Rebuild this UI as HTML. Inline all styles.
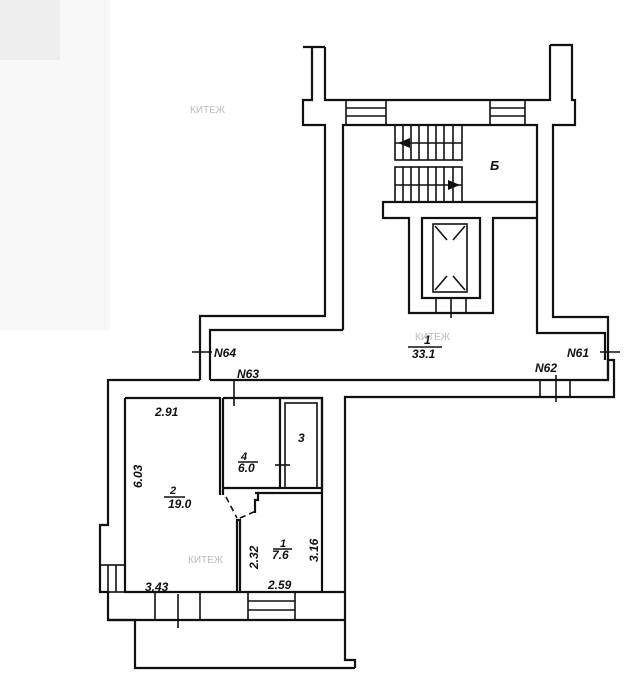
<!DOCTYPE html>
<html><head><meta charset="utf-8"><style>
html,body{margin:0;padding:0;background:#fff;width:640px;height:678px;overflow:hidden}
svg{display:block}
text{font-family:"Liberation Sans",sans-serif;font-weight:bold;font-style:italic;fill:#111}
.w{fill:none;stroke:#111;stroke-width:2.2}
.t{fill:none;stroke:#111;stroke-width:1.6}
.wm{font-family:"Liberation Sans","Noto Sans CJK SC",sans-serif;font-style:normal;font-weight:normal;fill:#bbb;font-size:10px}
</style></head><body>
<svg width="640" height="678" viewBox="0 0 640 678">
<rect width="640" height="678" fill="#fff"/>
<rect x="0" y="0" width="110" height="330" fill="#f3f3f3" opacity="0.6"/>
<rect x="0" y="0" width="60" height="60" fill="#e8e8e8" opacity="0.6"/>
<!-- stair block -->
<polyline class="w" points="312,47 312,100 303,100 303,125 325,125 325,316 200,316 200,380"/>
<polyline class="w" points="325,47 325,100 550,100 550,45"/>
<polyline class="w" points="303,47 325,47"/>
<polyline class="w" points="550,45 572,45 572,100 575,100 575,125 553,125 553,317 608,317 608,380"/>
<polyline class="w" points="343,330 343,125 537,125 537,333 605,333 605,360"/>
<polyline class="w" points="210,380 210,330 343,330"/>
<!-- top windows -->
<rect class="t" x="346" y="100" width="40" height="25"/>
<line class="t" x1="346" y1="108" x2="386" y2="108"/><line class="t" x1="346" y1="116" x2="386" y2="116"/>
<rect class="t" x="490" y="100" width="35" height="25"/>
<line class="t" x1="490" y1="108" x2="525" y2="108"/><line class="t" x1="490" y1="116" x2="525" y2="116"/>
<!-- stairs -->
<rect class="t" x="395" y="125" width="67" height="35"/>
<rect class="t" x="395" y="167" width="67" height="35"/>
<g class="t">
<line x1="395" y1="143" x2="462" y2="143"/><line x1="395" y1="185" x2="462" y2="185"/>
<line x1="403" y1="125" x2="403" y2="160"/><line x1="411" y1="125" x2="411" y2="160"/><line x1="419" y1="125" x2="419" y2="160"/><line x1="428" y1="125" x2="428" y2="160"/><line x1="436" y1="125" x2="436" y2="160"/><line x1="444" y1="125" x2="444" y2="160"/><line x1="453" y1="125" x2="453" y2="160"/>
<line x1="403" y1="167" x2="403" y2="202"/><line x1="411" y1="167" x2="411" y2="202"/><line x1="419" y1="167" x2="419" y2="202"/><line x1="428" y1="167" x2="428" y2="202"/><line x1="436" y1="167" x2="436" y2="202"/><line x1="444" y1="167" x2="444" y2="202"/><line x1="453" y1="167" x2="453" y2="202"/>
</g>
<polygon points="398,143 410,138 410,148" fill="#111"/>
<polygon points="460,185 448,180 448,190" fill="#111"/>
<polyline class="w" points="537,202 383,202 383,218 409,218 409,313 493,313 493,218 537,218"/>
<rect class="w" x="422" y="218" width="58" height="80"/>
<rect class="t" x="433" y="224" width="34" height="68"/>
<g class="t"><line x1="435" y1="226" x2="447" y2="240"/><line x1="465" y1="226" x2="453" y2="240"/><line x1="435" y1="290" x2="447" y2="276"/><line x1="465" y1="290" x2="453" y2="276"/>
<line x1="436" y1="298" x2="436" y2="313"/><line x1="466" y1="298" x2="466" y2="313"/><line x1="451" y1="298" x2="451" y2="318"/></g>
<!-- corridor -->
<polyline class="w" points="200,380 108,380 108,525 100,525 100,592 108,592 108,620 135,620 135,668 355,668"/>
<polyline class="w" points="210,380 608,380 608,360 614,360 614,397 345,397 345,660 355,660 355,668"/>
<polyline class="w" points="125,398 125,592 345,592"/>
<polyline class="w" points="125,398 220,398 220,495"/>
<polyline class="w" points="223,398 223,495"/>
<polyline class="w" points="223,398 322,398 322,592"/>
<polyline class="w" points="108,620 345,620"/>
<rect class="w" x="280" y="398" width="42" height="90"/>
<rect class="w" x="285" y="403" width="32" height="85" style="stroke-width:1.6"/>
<polyline class="w" points="223,488 280,488"/>
<polyline class="w" points="255,493 322,493"/>
<polyline class="w" points="237,592 237,520 240,520 240,592"/>
<polyline class="w" points="258,493 258,500 255,500 255,513"/>
<line class="t" x1="226" y1="497" x2="237" y2="518" stroke-dasharray="6,4"/>
<line class="t" x1="240" y1="518" x2="256" y2="511" stroke-dasharray="6,4"/>
<!-- windows bottom -->
<rect class="t" x="155" y="592" width="45" height="28"/>
<rect class="t" x="248" y="592" width="47" height="28"/>
<line class="t" x1="248" y1="601" x2="295" y2="601"/><line class="t" x1="248" y1="610" x2="295" y2="610"/>
<rect class="t" x="100" y="565" width="25" height="27"/>
<line class="t" x1="108" y1="565" x2="108" y2="592"/><line class="t" x1="116" y1="565" x2="116" y2="592"/>
<rect class="t" x="540" y="380" width="30" height="17"/>
<line class="t" x1="556" y1="375" x2="556" y2="402"/>
<line class="t" x1="234" y1="380" x2="234" y2="406"/>
<line class="t" x1="192" y1="352" x2="212" y2="352"/>
<line class="t" x1="600" y1="352" x2="620" y2="352"/>
<line class="t" x1="275" y1="465" x2="290" y2="465"/>
<line class="t" x1="178" y1="594" x2="178" y2="628"/>
<!-- labels -->
<text x="490" y="170" font-size="13">Б</text>
<text x="424" y="344" font-size="12">1</text><line class="t" x1="408" y1="347" x2="442" y2="347"/>
<text x="412" y="358" font-size="12">33.1</text>
<text x="214" y="357" font-size="12">N64</text>
<text x="237" y="378" font-size="12">N63</text>
<text x="535" y="372" font-size="12">N62</text>
<text x="567" y="357" font-size="12">N61</text>
<text x="155" y="416" font-size="12">2.91</text>
<text x="170" y="494" font-size="11">2</text><line class="t" x1="164" y1="497" x2="185" y2="497"/>
<text x="168" y="508" font-size="12">19.0</text>
<text x="241" y="460" font-size="11">4</text><line class="t" x1="238" y1="462" x2="258" y2="462"/>
<text x="238" y="472" font-size="12">6.0</text>
<text x="298" y="442" font-size="12">3</text>
<text x="280" y="547" font-size="11">1</text><line class="t" x1="273" y1="549" x2="292" y2="549"/>
<text x="272" y="559" font-size="12">7.6</text>
<text x="145" y="591" font-size="12">3.43</text>
<text x="268" y="589" font-size="12">2.59</text>
<text transform="translate(142,488) rotate(-90)" font-size="12">6.03</text>
<text transform="translate(258,569) rotate(-90)" font-size="12">2.32</text>
<text transform="translate(318,562) rotate(-90)" font-size="12">3.16</text>
<text class="wm" x="190" y="113">КИТЕЖ</text>
<text class="wm" x="415" y="340">КИТЕЖ</text>
<text class="wm" x="188" y="563">КИТЕЖ</text>
</svg>
</body></html>
